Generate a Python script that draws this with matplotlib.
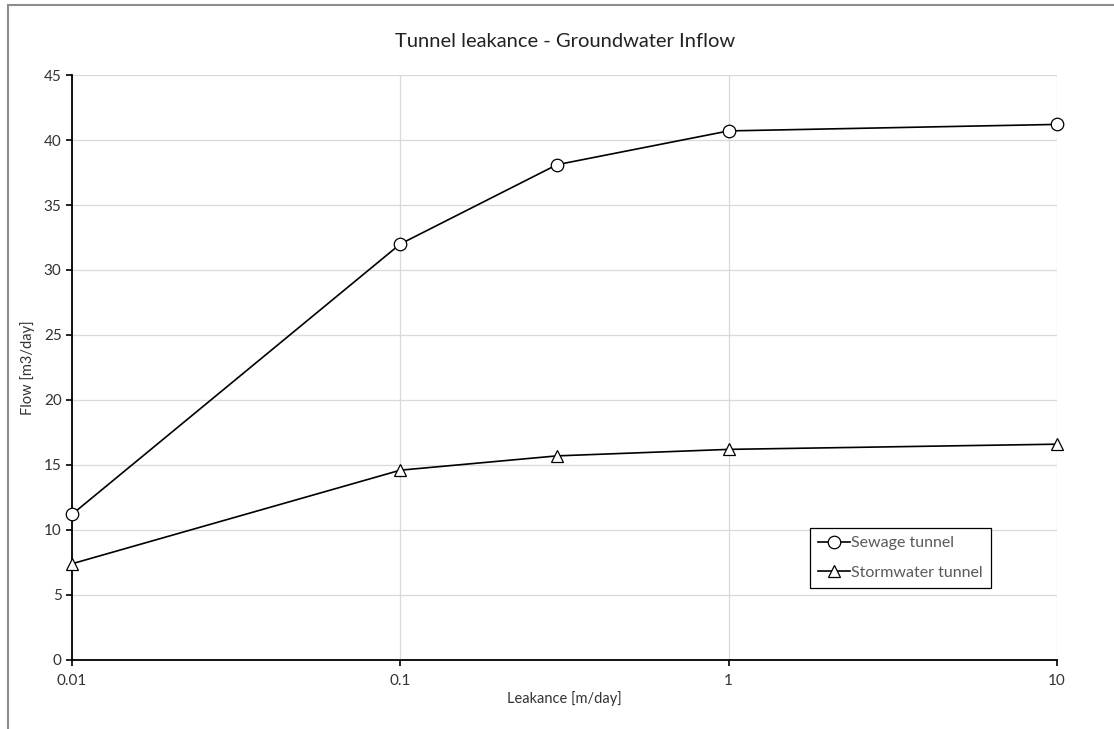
import numpy as np
import matplotlib.pyplot as plt
from matplotlib.lines import Line2D

plt.rcParams['font.family'] = ['Lato', 'DejaVu Sans']

# leakance [m/day] and groundwater inflow [m3/day]
leakance = [0.01, 0.1, 0.3, 1, 10]
sewage = [11.2, 32.0, 38.1, 40.7, 41.2]
stormwater = [7.4, 14.6, 15.7, 16.2, 16.6]

fig = plt.figure(figsize=(11.14, 7.29), dpi=100)
ax = fig.add_axes([0.0646, 0.0947, 0.8842, 0.8024])

# outer chart frame (only left/top edges visible in the picture)
fig.add_artist(Line2D([8/1114, 8/1114], [0, 1 - 5/729], transform=fig.transFigure, color='#8c8c8c', lw=1.5))
fig.add_artist(Line2D([8/1114, 1], [1 - 5/729, 1 - 5/729], transform=fig.transFigure, color='#8c8c8c', lw=1.5))

ax.plot(leakance, sewage, color='black', lw=1.2, marker='o', ms=9,
        mfc='white', mec='black', mew=0.9, label='Sewage tunnel', zorder=3, clip_on=False)
ax.plot(leakance, stormwater, color='black', lw=1.2, marker='^', ms=9,
        mfc='white', mec='black', mew=0.9, label='Stormwater tunnel', zorder=3, clip_on=False)

ax.set_xscale('log')
ax.set_xlim(0.01, 10)
ax.set_ylim(0, 45)
ax.set_xticks([0.01, 0.1, 1, 10])
ax.set_xticklabels(['0.01', '0.1', '1', '10'])
ax.minorticks_off()
ax.set_yticks(np.arange(0, 46, 5))

ax.grid(True, color='#d9d9d9', lw=0.9)
ax.set_axisbelow(True)
for s in ['top', 'right']:
    ax.spines[s].set_visible(False)
for s in ['left', 'bottom']:
    ax.spines[s].set_linewidth(1.3)
ax.tick_params(axis='both', labelsize=11, colors='black', length=4, width=1.2, labelcolor='#333333')
ax.tick_params(axis='x', pad=6)

ax.set_xlabel('Leakance [m/day]', fontsize=10.5, color='#333333', labelpad=2)
ax.set_ylabel('Flow [m3/day]', fontsize=10.5, color='#333333', labelpad=6)
fig.suptitle('Tunnel leakance - Groundwater Inflow', fontsize=14.5, x=0.507, y=0.955, color='#222222')

leg = ax.legend(loc='upper left', bbox_to_anchor=(0.749, 0.2256), fontsize=11.5,
                fancybox=False, framealpha=1, edgecolor='black', handlelength=2.0,
                handletextpad=0.1, borderpad=0.5, labelspacing=0.95, borderaxespad=0)
leg.get_frame().set_linewidth(0.9)
for t in leg.get_texts():
    t.set_color('#595959')

fig.savefig('out.png', dpi=100)
